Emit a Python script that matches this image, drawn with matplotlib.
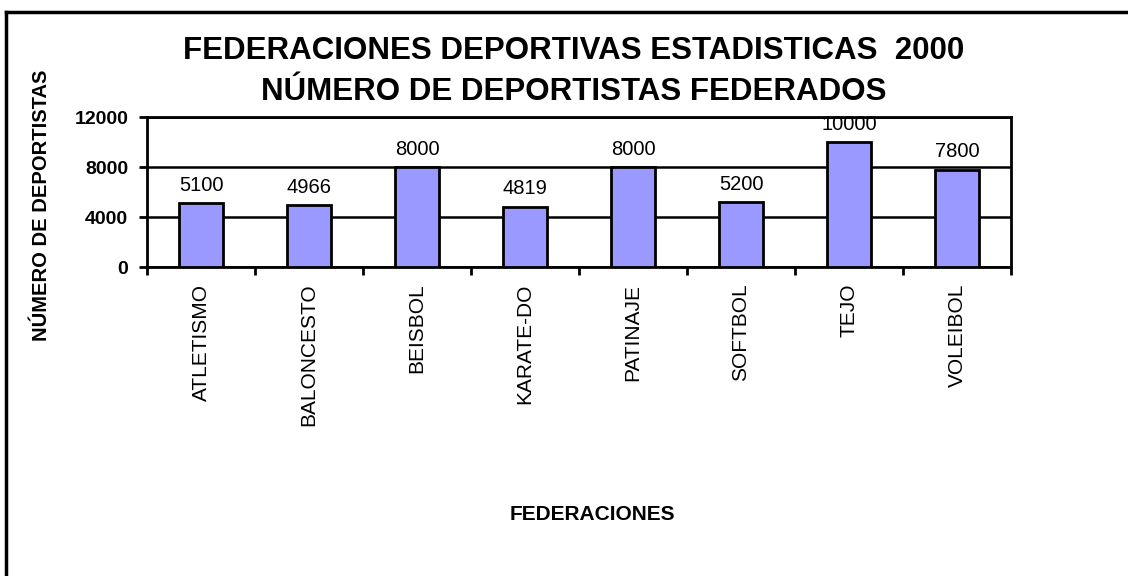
import numpy as np
import matplotlib
matplotlib.use("Agg")
import matplotlib.pyplot as plt
from matplotlib.lines import Line2D

plt.rcParams['font.family'] = ['Liberation Sans', 'DejaVu Sans']

federaciones = ["ATLETISMO", "BALONCESTO", "BEISBOL", "KARATE-DO",
                "PATINAJE", "SOFTBOL", "TEJO", "VOLEIBOL"]
deportistas = [5100, 4966, 8000, 4819, 8000, 5200, 10000, 7800]
y_ticks = [0, 4000, 8000, 12000]

fig = plt.figure(figsize=(11.28, 5.76), dpi=100)
ax = fig.add_axes([147/1128, 1 - 267/576, (1011-147)/1128, (267-117)/576])

x = np.arange(len(federaciones))
bars = ax.bar(x, deportistas, width=0.41, color="#9999FF",
              edgecolor="black", linewidth=2, zorder=3)
ax.bar_label(bars, labels=[str(v) for v in deportistas], padding=6,
             fontsize=14.5)

ax.set_xlim(-0.5, len(federaciones) - 0.5)
ax.set_ylim(0, 12000)
ax.set_yticks(y_ticks)
ax.set_yticklabels([str(t) for t in y_ticks], fontsize=14, fontweight="bold")
ax.yaxis.grid(True, color="black", linewidth=1.8, zorder=1)
ax.set_axisbelow(True)

# ticks between categories, labels at centres
ax.set_xticks(np.arange(len(federaciones) + 1) - 0.5)
ax.set_xticklabels([])
ax.set_xticks(x, minor=True)
ax.set_xticklabels(federaciones, minor=True, rotation=90, fontsize=15)
ax.tick_params(axis="x", which="major", direction="out", length=5.5, width=2)
ax.tick_params(axis="x", which="minor", length=0, pad=12)
ax.tick_params(axis="y", direction="out", length=5.5, width=2, pad=8)

for s in ax.spines.values():
    s.set_linewidth(2)

fig.text(574/1128, 1 - 59/576, "FEDERACIONES DEPORTIVAS ESTADISTICAS  2000",
         ha="center", va="baseline", fontsize=22.5, fontweight="bold")
fig.text(574/1128, 1 - 100/576, "NÚMERO DE DEPORTISTAS FEDERADOS",
         ha="center", va="baseline", fontsize=22.5, fontweight="bold")
fig.text(42/1128, 1 - 205/576, "NÚMERO DE DEPORTISTAS", rotation=90,
         ha="center", va="center", fontsize=14.5, fontweight="bold")
fig.text(592/1128, 1 - 520/576, "FEDERACIONES", ha="center", va="baseline",
         fontsize=15, fontweight="bold")

# chart border (only left and top edges visible)
fig.add_artist(Line2D([6/1128, 6/1128], [0, 1 - 12/576], color="black",
                      linewidth=2.5, transform=fig.transFigure))
fig.add_artist(Line2D([6/1128, 1], [1 - 12/576, 1 - 12/576], color="black",
                      linewidth=2.5, transform=fig.transFigure))

fig.savefig("out.png", dpi=100, facecolor="white")
